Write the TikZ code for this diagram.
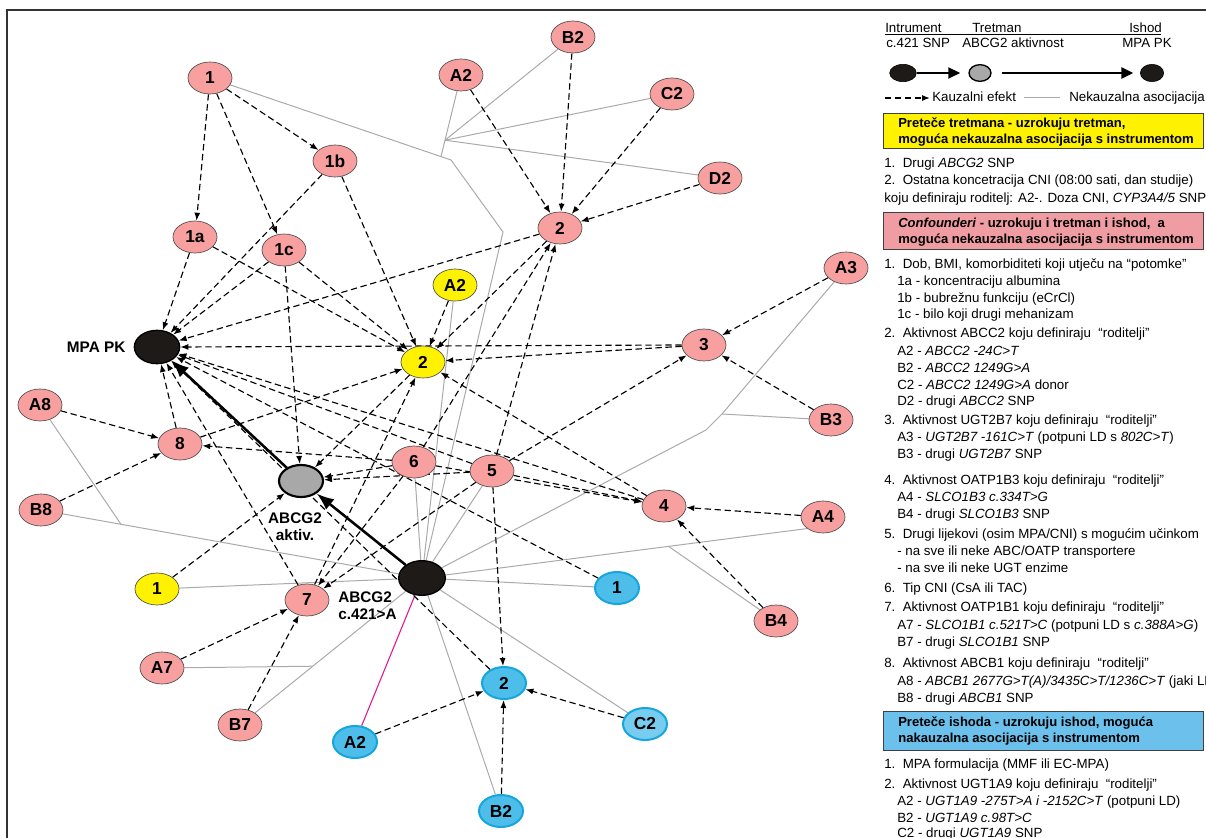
\documentclass[tikz,border=0pt]{standalone}
\usepackage{fontspec}
\setmainfont{Liberation Sans}
\usetikzlibrary{positioning,shapes.geometric,arrows.meta,calc}

\pgfdeclarelayer{background}
\pgfsetlayers{background,main}

\definecolor{confpink}{RGB}{248,160,160}
\definecolor{outblue}{RGB}{77,190,234}
\definecolor{outbluelight}{RGB}{120,204,240}
\definecolor{outblueline}{RGB}{22,166,222}
\definecolor{assocgray}{RGB}{170,170,170}
\definecolor{aktgray}{RGB}{168,168,168}
\definecolor{boxpink}{RGB}{239,156,162}
\definecolor{boxblue}{RGB}{108,193,236}
\definecolor{nodeblack}{RGB}{30,26,24}
\definecolor{linkmagenta}{RGB}{224,20,140}

\tikzset{
  varnode/.style={ellipse,draw=black!70,line width=0.5pt,minimum width=33pt,minimum height=24pt,inner sep=0pt,font=\fontsize{13}{13}\selectfont\bfseries},
  confounder/.style={varnode,fill=confpink},
  treatprec/.style={varnode,fill=yellow},
  outprec/.style={varnode,fill=outblue,draw=outblueline,line width=1.5pt},
  causal/.style={-{Latex[length=6pt,width=4.5pt]},dash pattern=on 4.8pt off 2.7pt,line width=0.85pt},
  assoc/.style={draw=assocgray,line width=0.75pt},
  effect/.style={-{Latex[length=13pt,width=10pt]},line width=1.9pt},
  keyarrow/.style={-{Triangle[length=9pt,width=8pt]},line width=2.2pt},
  sidelabel/.style={inner sep=0pt,font=\fontsize{11.5}{12.75}\selectfont\bfseries},
  legtext/.style={anchor=base west,inner sep=0pt,font=\fontsize{10}{12}\selectfont},
  legbold/.style={legtext,font=\fontsize{9.8}{12}\selectfont\bfseries},
  legbox/.style={anchor=north west,draw=black!75,line width=0.6pt,minimum width=240pt,inner sep=0pt}
}

\begin{document}
\begin{tikzpicture}[x=0.75pt,y=-0.75pt]
  \useasboundingbox (0,0) rectangle (1206,838);

  % frame
  \draw[black!80,line width=0.8pt] (7,838) -- (7,10) -- (1206,10);

  % outcome, treatment, instrument
  \node[ellipse,fill=nodeblack,draw=black,line width=1pt,minimum width=34pt,minimum height=25pt] (mpa) at (157,347) {};
  \node[ellipse,fill=aktgray,draw=black,line width=1.6pt,minimum width=33pt,minimum height=24pt] (akt) at (301,481) {};
  \node[ellipse,fill=nodeblack,draw=black,line width=1pt,minimum width=35pt,minimum height=26pt] (snp) at (422,578) {};
  \node[sidelabel,left=6pt of mpa] (mpalbl) {MPA PK};
  \node[sidelabel,align=center] (aktlbl) at (295,527) {ABCG2\\aktiv.};
  \node[sidelabel,align=left,anchor=west] (snplbl) at (338,606) {ABCG2\\c.421>A};

  % confounders
  \node[confounder] (c1) at (210,78) {1};
  \node[confounder] (c1b) at (335,161) {1b};
  \node[confounder] (c1a) at (195,237) {1a};
  \node[confounder] (c1c) at (284,250) {1c};
  \node[confounder] (a2) at (461,75) {A2};
  \node[confounder] (b2) at (573,37) {B2};
  \node[confounder] (c2) at (672,94) {C2};
  \node[confounder] (d2) at (720,178) {D2};
  \node[confounder] (k2) at (560,228) {2};
  \node[confounder] (a3) at (846,268) {A3};
  \node[confounder] (k3) at (704,345) {3};
  \node[confounder] (b3) at (831,420) {B3};
  \node[confounder] (a8) at (40,405) {A8};
  \node[confounder] (k8) at (180,444) {8};
  \node[confounder] (b8) at (41,510) {B8};
  \node[confounder] (k6) at (414,462) {6};
  \node[confounder] (k5) at (492,471) {5};
  \node[confounder] (k4) at (664,506) {4};
  \node[confounder] (a4) at (823,517) {A4};
  \node[confounder] (b4) at (776,621) {B4};
  \node[confounder] (k7) at (307,600) {7};
  \node[confounder] (a7) at (162,668) {A7};
  \node[confounder] (b7) at (240,725) {B7};

  % precursors of treatment
  \node[treatprec] (ta2) at (455,285) {A2};
  \node[treatprec] (t2) at (423,362) {2};
  \node[treatprec] (t1) at (157,589) {1};

  % precursors of outcome
  \node[outprec] (o1) at (617,588) {1};
  \node[outprec] (o2) at (504,683) {2};
  \node[outprec,fill=outbluelight] (oc2) at (645,724) {C2};
  \node[outprec] (oa2) at (355,742) {A2};
  \node[outprec] (ob2) at (501,811) {B2};

  \begin{pgfonlayer}{background}
    % non-causal associations with the instrument
    \coordinate (bend1) at (451,160);
    \coordinate (bend2) at (503,232);
    \coordinate (j1) at (441,156.5);
    \coordinate (j2) at ($(a2)!0.8!(j1)$);
    \draw[assoc] (c1) -- (bend1) -- (bend2) -- (snp);
    \draw[assoc] (a2) -- (j1);
    \draw[assoc] (b2) -- (j2);
    \draw[assoc] (c2) -- (j2);
    \draw[assoc] (d2) -- (j2);
    \draw[assoc] (snp) -- (ta2);
    \draw[assoc] (snp) -- (k6);
    \draw[assoc] (snp) -- (k5);
    \draw[assoc] (snp) -- (t1);
    \draw[assoc] (snp) -- (o1);
    \draw[assoc] (snp) -- (oc2);
    \draw[assoc] (snp) -- (ob2);
    \coordinate (j8) at ($(b8)!0.21!(snp)$);
    \draw[assoc] (snp) -- (b8);
    \draw[assoc] (a8) -- (j8);
    \coordinate (j7) at ($(b7)!0.4!(snp)$);
    \draw[assoc] (snp) -- (b7);
    \draw[assoc] (a7) -- (j7);
    \coordinate (j4) at ($(snp)!0.64!(a4.south west)$);
    \draw[assoc] (snp) -- (a4.south west);
    \draw[assoc] (b4) -- (j4);
    \coordinate (j3a) at (706,430);
    \coordinate (j3) at (722,414);
    \draw[assoc] (snp) -- (j3a) -- (j3) -- (a3);
    \draw[assoc] (b3) -- (j3);
    \draw[draw=linkmagenta,line width=0.8pt] (snp) -- (oa2);

    % causal effects
    \draw[causal] (c1) -- (c1a);
    \draw[causal] (c1) -- (c1c);
    \draw[causal] (c1) -- (c1b);
    \draw[causal] (c1a) -- (mpa);
    \draw[causal] (c1a) -- (t2);
    \draw[causal] (c1b) -- (mpa);
    \draw[causal] (c1b) -- (t2);
    \draw[causal] (c1c) -- (mpa);
    \draw[causal] (c1c) -- (akt);
    \draw[causal] (c1c) -- (t2);
    \draw[causal] (a2) -- (k2);
    \draw[causal] (b2) -- (k2);
    \draw[causal] (c2) -- (k2);
    \draw[causal] (d2) -- (k2);
    \draw[causal] (k2) -- (mpa);
    \draw[causal] (k2) -- (t2);
    \draw[causal] (ta2) -- (t2);
    \draw[causal] (t2) -- (akt);
    \draw[causal] (a3) -- (k3);
    \draw[causal] (b3) -- (k3);
    \draw[causal] (k3.west) -- (mpa.east);
    \draw[causal] (k3) -- (t2);
    \draw[causal] (k5) -- (k3);
    \draw[causal] (k5) -- (k2);
    \draw[causal] (k6) -- (k2);
    \draw[causal] (k5) -- (k4);
    \draw[causal] (k6) -- (k4);
    \draw[causal] (k5) -- (akt);
    \draw[causal] (k6) -- (akt);
    \draw[causal] (k5) -- (k7);
    \draw[causal] (k6) -- (k7);
    \draw[causal] (k6) -- (k8);
    \draw[causal] (k5) -- (mpa);
    \draw[causal] (k5) -- (o2);
    \draw[causal] (a4) -- (k4);
    \draw[causal] (b4) -- (k4);
    \draw[causal] (k4) -- (mpa);
    \draw[causal] (k4) -- (t2);
    \draw[causal] (a7) -- (k7);
    \draw[causal] (b7) -- (k7);
    \draw[causal] (k7) -- (mpa);
    \draw[causal] (k7) -- (t2);
    \draw[causal] (a8) -- (k8);
    \draw[causal] (b8) -- (k8);
    \draw[causal] (k8) -- (mpa);
    \draw[causal] (k8) -- (t2);
    \draw[causal] (t1) -- (akt);
    \draw[causal] (o1) -- (mpa);
    \draw[causal] (o2) -- (mpa);
    \draw[causal] (oa2) -- (o2);
    \draw[causal] (ob2) -- (o2);
    \draw[causal] (oc2) -- (o2);

    % instrument -> treatment -> outcome
    \draw[effect] (snp) -- (akt);
    \draw[effect] (akt) -- (mpa);
  \end{pgfonlayer}

  % key
  \node[legtext] (hdinstr) at (885,32.5) {Intrument};
  \node[legtext] (hdtreat) at (972,32.5) {Tretman};
  \node[legtext] (hdout) at (1129,32.5) {Ishod};
  \draw[line width=0.6pt] (885,34.5) -- (1161,34.5);
  \node[legtext] (hdsnp) at (886,48) {c.421 SNP};
  \node[legtext] (hdakt) at (962,48) {ABCG2 aktivnost};
  \node[legtext] (hdmpa) at (1122,48) {MPA PK};
  \node[ellipse,fill=nodeblack,draw=black,minimum width=20pt,minimum height=13pt,inner sep=0pt] (keysnp) at (903,73) {};
  \node[ellipse,fill=aktgray,draw=black,line width=1pt,minimum width=16.5pt,minimum height=12.5pt,inner sep=0pt] (keyakt) at (980,73) {};
  \node[ellipse,fill=nodeblack,draw=black,minimum width=17.5pt,minimum height=13pt,inner sep=0pt] (keympa) at (1152,73) {};
  \draw[keyarrow,shorten >=6pt] (keysnp) -- (keyakt);
  \draw[keyarrow,shorten <=8pt,shorten >=5pt] (keyakt) -- (keympa);
  \coordinate (keydashA) at (885,98);
  \coordinate (keydashB) at (930,98);
  \draw[causal] (keydashA) -- (keydashB);
  \node[legtext] (keycausal) at (932,101.5) {Kauzalni efekt};
  \coordinate (keyassocA) at (1024,97.5);
  \coordinate (keyassocB) at (1060,97.5);
  \draw[assoc] (keyassocA) -- (keyassocB);
  \node[legtext] (keyassoc) at (1069,101.5) {Nekauzalna asocijacija};

  % precursors of treatment
  \node[legbox,fill=yellow,minimum height=26.25pt] (boxtreat) at (883,113) {};
  \node[legbold] (boxtreat1) at (898,128) {Preteče tretmana - uzrokuju tretman,};
  \node[legbold] (boxtreat2) at (898,144) {moguća nekauzalna asocijacija s instrumentom};
  \node[legtext] (pt1) at (884,167) {1.\ \ Drugi \textit{ABCG2} SNP};
  \node[legtext] (pt2) at (884,185) {2.\ \ Ostatna koncetracija CNI (08:00 sati, dan studije)};
  \node[legtext] (pt2b) at (884,203) {koju definiraju roditelj: A2-. Doza CNI, \textit{CYP3A4/5} SNP};

  % confounders
  \node[legbox,fill=boxpink,minimum height=27.75pt] (boxconf) at (883,212) {};
  \node[legbold] (boxconf1) at (898,227) {\textit{Confounderi} - uzrokuju i tretman i ishod,\ \ a};
  \node[legbold] (boxconf2) at (898,243) {moguća nekauzalna asocijacija s instrumentom};
  \node[legtext] (cf1) at (884,268) {1.\ \ Dob, BMI, komorbiditeti koji utječu na “potomke”};
  \node[legtext] (cf1a) at (897,285) {1a - koncentraciju albumina};
  \node[legtext] (cf1b) at (897,302) {1b - bubrežnu funkciju (eCrCl)};
  \node[legtext] (cf1c) at (897,318) {1c - bilo koji drugi mehanizam};
  \node[legtext] (cf2) at (884,337) {2.\ \ Aktivnost ABCC2 koju definiraju\ \ “roditelji”};
  \node[legtext] (cf2a) at (897,355) {A2 - \textit{ABCC2 -24C>T}};
  \node[legtext] (cf2b) at (897,372) {B2 - \textit{ABCC2 1249G>A}};
  \node[legtext] (cf2c) at (897,389) {C2 - \textit{ABCC2 1249G>A} donor};
  \node[legtext] (cf2d) at (897,405) {D2 - drugi \textit{ABCC2} SNP};
  \node[legtext] (cf3) at (884,424) {3.\ \ Aktivnost UGT2B7 koju definiraju\ \ “roditelji”};
  \node[legtext] (cf3a) at (897,441) {A3 - \textit{UGT2B7 -161C>T} (potpuni LD s \textit{802C>T})};
  \node[legtext] (cf3b) at (897,458) {B3 - drugi \textit{UGT2B7} SNP};
  \node[legtext] (cf4) at (884,484) {4.\ \ Aktivnost OATP1B3 koju definiraju\ \ “roditelji”};
  \node[legtext] (cf4a) at (897,501) {A4 - \textit{SLCO1B3 c.334T>G}};
  \node[legtext] (cf4b) at (897,518) {B4 - drugi \textit{SLCO1B3} SNP};
  \node[legtext] (cf5) at (884,538) {5.\ \ Drugi lijekovi (osim MPA/CNI) s mogućim učinkom};
  \node[legtext] (cf5a) at (897,555) {- na sve ili neke ABC/OATP transportere};
  \node[legtext] (cf5b) at (897,572) {- na sve ili neke UGT enzime};
  \node[legtext] (cf6) at (884,592) {6.\ \ Tip CNI (CsA ili TAC)};
  \node[legtext] (cf7) at (884,611) {7.\ \ Aktivnost OATP1B1 koju definiraju\ \ “roditelji”};
  \node[legtext] (cf7a) at (897,629) {A7 - \textit{SLCO1B1 c.521T>C} (potpuni LD s \textit{c.388A>G})};
  \node[legtext] (cf7b) at (897,646) {B7 - drugi \textit{SLCO1B1} SNP};
  \node[legtext] (cf8) at (884,667) {8.\ \ Aktivnost ABCB1 koju definiraju\ \ “roditelji”};
  \node[legtext] (cf8a) at (897,685) {A8 - \textit{ABCB1 2677G>T(A)/3435C>T/1236C>T} (jaki LD};
  \node[legtext] (cf8b) at (897,702) {B8 - drugi \textit{ABCB1} SNP};

  % precursors of outcome
  \node[legbox,fill=boxblue,minimum height=29pt] (boxout) at (883,711) {};
  \node[legbold] (boxout1) at (898,726) {Preteče ishoda - uzrokuju ishod, moguća};
  \node[legbold] (boxout2) at (898,742) {nakauzalna asocijacija s instrumentom};
  \node[legtext] (po1) at (884,768) {1.\ \ MPA formulacija (MMF ili EC-MPA)};
  \node[legtext] (po2) at (884,788) {2.\ \ Aktivnost UGT1A9 koju definiraju\ \ “roditelji”};
  \node[legtext] (po2a) at (897,805) {A2 - \textit{UGT1A9 -275T>A i -2152C>T} (potpuni LD)};
  \node[legtext] (po2b) at (897,822) {B2 - \textit{UGT1A9 c.98T>C}};
  \node[legtext] (po2c) at (897,837) {C2 - drugi \textit{UGT1A9} SNP};
\end{tikzpicture}
\end{document}
